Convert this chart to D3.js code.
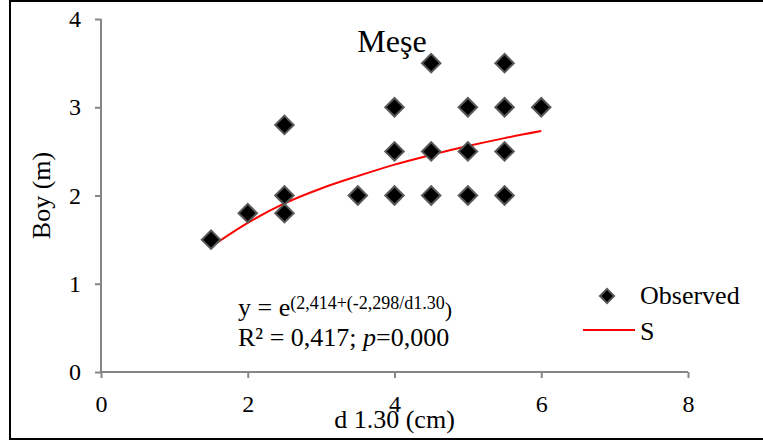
<!DOCTYPE html>
<html>
<head>
<meta charset="utf-8">
<script src="https://cdn.jsdelivr.net/npm/d3@7/dist/d3.min.js"></script>
<style>
  html, body { margin: 0; padding: 0; background: #fff; }
  svg { display: block; font-family: "Liberation Serif", "Times New Roman", serif; }
</style>
</head>
<body>
<svg id="chart" width="763" height="443"></svg>
<script>
// Observed tree diameters (cm) and heights (m)
const diameters = [1.5, 2, 2.5, 2.5, 2.5, 3.5, 4, 4, 4, 4.5, 4.5, 4.5, 5, 5, 5, 5.5, 5.5, 5.5, 5.5, 6];
const heights   = [1.5, 1.8, 1.8, 2, 2.8, 2, 2, 2.5, 3, 2, 2.5, 3.5, 2, 2.5, 3, 2, 2.5, 3, 3.5, 3];

// Fitted "S" curve, sampled along the diameter range
const curveD = [1.5, 2, 2.5, 3, 3.5, 4, 4.5, 5, 5.5, 6];
const curveH = [1.42, 1.69, 1.91, 2.08, 2.22, 2.35, 2.46, 2.56, 2.65, 2.73];

const xTicks = [0, 2, 4, 6, 8];
const yTicks = [0, 1, 2, 3, 4];

const svg = d3.select("#chart");

// outer frame
svg.append("rect")
  .attr("x", 10).attr("y", 1)
  .attr("width", 770).attr("height", 438)
  .attr("fill", "none").attr("stroke", "#000").attr("stroke-width", 2);

const x = d3.scaleLinear().domain([0, 8]).range([101, 688]);
const y = d3.scaleLinear().domain([0, 4]).range([372, 19]);

const axisColor = "#868686";

// y axis
const gy = svg.append("g").attr("transform", `translate(${x(0)},0)`)
  .call(d3.axisLeft(y).tickValues(yTicks).tickSize(6).tickPadding(14).tickFormat(d3.format("d")));
// x axis
const gx = svg.append("g").attr("transform", `translate(0,${y(0)})`)
  .call(d3.axisBottom(x).tickValues(xTicks).tickSize(6).tickPadding(17).tickFormat(d3.format("d")));

[gx, gy].forEach(g => {
  g.select(".domain").attr("stroke", axisColor).attr("stroke-width", 2);
  g.selectAll(".tick line").attr("stroke", axisColor).attr("stroke-width", 2);
  g.selectAll(".tick text").attr("fill", "#000").attr("font-size", 24)
    .attr("font-family", "Liberation Serif, Times New Roman, serif");
});
gx.select(".domain").attr("d", `M${x(0)},0H${x(8)}`);
gy.select(".domain").attr("d", `M0,${y(0)}V${y(4)}`);
gx.selectAll(".tick text").attr("dy", "0.71em");

// axis titles
svg.append("text")
  .attr("x", (x(0) + x(8)) / 2).attr("y", 428)
  .attr("text-anchor", "middle").attr("font-size", 26)
  .text("d 1.30 (cm)");
svg.append("text")
  .attr("transform", `translate(50,${(y(0) + y(4)) / 2}) rotate(-90)`)
  .attr("text-anchor", "middle").attr("font-size", 26)
  .text("Boy (m)");

// chart title
svg.append("text")
  .attr("x", 392).attr("y", 52)
  .attr("text-anchor", "middle").attr("font-size", 32)
  .text("Meşe");

// fitted curve
const line = d3.line()
  .x((d, i) => x(curveD[i]))
  .y((d, i) => y(curveH[i]))
  .curve(d3.curveMonotoneX);
svg.append("path")
  .attr("d", line(curveD))
  .attr("fill", "none").attr("stroke", "#ff0000").attr("stroke-width", 2);

// observed points as diamonds
const diamond = d3.symbol().type(d3.symbolSquare).size(170);
svg.append("g").selectAll("path")
  .data(diameters)
  .join("path")
  .attr("d", diamond)
  .attr("transform", (d, i) => `translate(${x(d)},${y(heights[i])}) rotate(45)`)
  .attr("fill", "#000").attr("stroke", "#595959").attr("stroke-width", 2);

// legend
const legend = svg.append("g");
legend.append("path")
  .attr("d", d3.symbol().type(d3.symbolSquare).size(100))
  .attr("transform", "translate(607,296) rotate(45)")
  .attr("fill", "#000").attr("stroke", "#595959").attr("stroke-width", 2);
legend.append("text").attr("x", 640).attr("y", 304).attr("font-size", 26).text("Observed");
legend.append("line")
  .attr("x1", 583).attr("x2", 635).attr("y1", 330).attr("y2", 330)
  .attr("stroke", "#ff0000").attr("stroke-width", 2);
legend.append("text").attr("x", 640).attr("y", 340).attr("font-size", 26).text("S");

// regression equation
const eq = svg.append("text").attr("x", 238).attr("y", 316).attr("font-size", 26);
eq.append("tspan").text("y = e");
eq.append("tspan").attr("font-size", 18).attr("dy", -7).text("(2,414+(-2,298/d1.30");
eq.append("tspan").attr("font-size", 22).attr("dy", 8).text(")");

const r2 = svg.append("text").attr("x", 238).attr("y", 346).attr("font-size", 26);
r2.append("tspan").text("R² = 0,417; ");
r2.append("tspan").attr("font-style", "italic").text("p");
r2.append("tspan").text("=0,000");
</script>
</body>
</html>
